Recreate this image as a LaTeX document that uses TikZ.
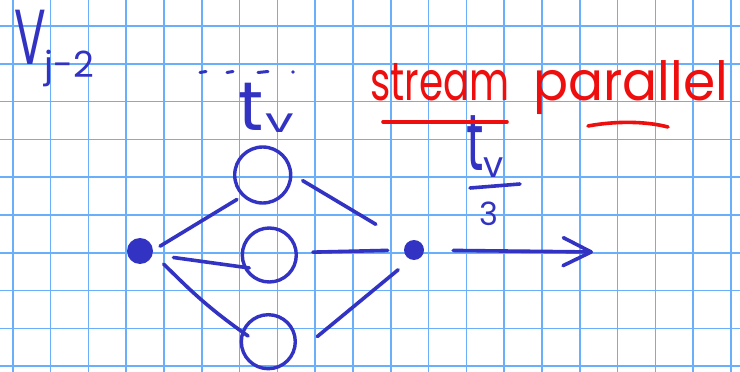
\documentclass[tikz,border=0pt]{standalone}
\usepackage{fontspec}
\setmainfont{Poppins}
\usetikzlibrary{arrows.meta}

\definecolor{gridblue}{RGB}{105,175,250}
\definecolor{ink}{RGB}{50,50,195}
\definecolor{redink}{RGB}{238,14,14}

\newcommand{\handsize}[1]{\fontsize{#1}{#1}\selectfont}

\tikzset{
  pen/.style={draw=ink, line width=3.6pt, line cap=round},
  redpen/.style={draw=redink, line width=3.6pt, line cap=round},
  ring/.style={circle, draw=ink, line width=3.4pt, minimum size=56pt, inner sep=0pt},
  blob/.style={circle, fill=ink, inner sep=0pt},
  hand/.style={text=ink, inner sep=0pt, anchor=base west},
}

\begin{document}
\begin{tikzpicture}[x=1pt, y=-1pt, >={Straight Barb[length=28pt, width=28pt, round]}]

% Paper and grid
\fill[white] (0,0) rectangle (740,372);
\useasboundingbox (0,0) rectangle (740,372);
\foreach \i in {0,...,19} {
  \draw[gridblue, line width=1.6pt] ({12.7+37.8*\i},0) -- ({12.7+37.8*\i},372);
}
\foreach \j in {0,...,9} {
  \draw[gridblue, line width=1.6pt] (0,{26+37.8*\j}) -- (740,{26+37.8*\j});
}

% Label top left
\node[hand, font=\handsize{78}] (vlabel) at (14,64)
  {\scalebox{0.6}[1]{V}\kern-1pt\raisebox{-13pt}{\handsize{36}j-2}};

% Dots above the workers
\foreach \a/\b in {200/206, 227/233, 258/268} {
  \draw[pen, line width=3pt] (\a,72.5) -- (\b,71.5);
}
\fill[ink] (293,72) circle (1.8pt);

% Service time of one worker
\node[hand, font=\handsize{69}] (tvtop) at (238,130)
  {t\kern2pt\raisebox{-2pt}{\handsize{34}\scalebox{1.5}[1]{v}}};

% Emitter, workers, collector
\node[blob, minimum size=26pt] (src) at (140,251) {};
\node[blob, minimum size=20pt] (sink) at (414,250) {};
\node[ring] (w1) at (262.7,175) {};
\node[ring, minimum size=54pt] (w2) at (269.3,255) {};
\node[ring, minimum size=54pt] (w3) at (268.3,341.7) {};

% Emitter to workers
\draw[pen, shorten <=6pt, shorten >=8pt] (w1.226) -- (src.3);
\draw[pen, shorten <=21pt, shorten >=-6pt] (src.-16) -- (w2.205);
\draw[pen, shorten <=15pt, shorten >=-8pt] (src.-12) to[out=-44, in=145] (w3.159);

% Workers to collector
\draw[pen, shorten <=12pt, shorten >=36pt] (w1.1) -- (sink.135);
\draw[pen, shorten <=15pt, shorten >=16pt] (w2.5) -- (sink.180);
\draw[pen, shorten <=32pt, shorten >=16pt] (w3.-32) -- (sink.250);

% Output with throughput
\coordinate (outtip) at (593,252);
\draw[pen, ->, shorten <=29pt] (sink) -- (outtip);
\node[hand, font=\handsize{80}] (tvnum) at (466,170)
  {\scalebox{0.6}[1]{t}\raisebox{-7pt}{\handsize{36}v}};
\draw[pen] (470,188) -- (520,184);
\node[hand, font=\handsize{32}] (tvden) at (479,225) {3};

% Title in red
\node[hand, text=redink, font=\handsize{54}] (title1) at (370,100) {\scalebox{0.72}[1]{stream}};
\node[hand, text=redink, font=\handsize{54}] (title2) at (533,100) {\scalebox{0.96}[1]{parallel}};
\draw[redpen] (383,121.7) -- (507,121.7);
\draw[redpen] (588,126) .. controls (615,121) and (645,121) .. (668,127);

\end{tikzpicture}
\end{document}
